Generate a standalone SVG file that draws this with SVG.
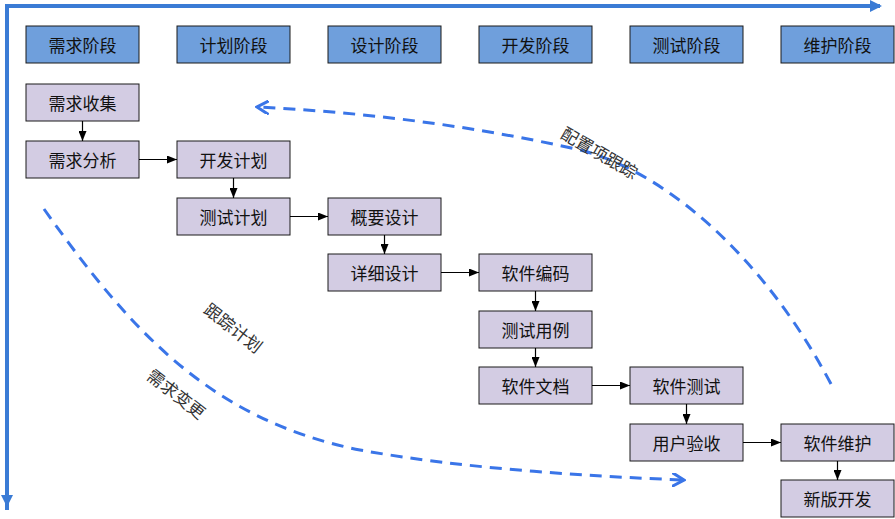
<svg xmlns="http://www.w3.org/2000/svg" width="895" height="519" viewBox="0 0 895 519">
<defs>
<style>
.h rect{fill:#6f9fdc;stroke:#1a1a1a;stroke-width:1}
.n rect{fill:#d3cce3;stroke:#1a1a1a;stroke-width:1}
text{font-family:"Noto Sans CJK SC","Liberation Sans",sans-serif;font-size:17px;fill:#111;text-anchor:middle;dominant-baseline:central}
.c line{stroke:#000;stroke-width:1.2;marker-end:url(#a)}
.d{fill:none;stroke:#3a75e8;stroke-width:3;stroke-dasharray:12 8}
.lb{fill:#333}
</style>
<marker id="a" markerWidth="10" markerHeight="8" refX="10" refY="4" orient="auto" markerUnits="userSpaceOnUse"><path d="M0,0 L10,4 L0,8z" fill="#000"/></marker>
<marker id="b" markerWidth="14" markerHeight="14" refX="12" refY="7" orient="auto" markerUnits="userSpaceOnUse"><path d="M0,0 L12,7 L0,14" fill="none" stroke="#3a75e8" stroke-width="3"/></marker>
<marker id="f" markerWidth="12" markerHeight="12" refX="10" refY="6" orient="auto" markerUnits="userSpaceOnUse"><path d="M0,0 L12,6 L0,12z" fill="#3a7bd5"/></marker>
</defs>
<rect width="895" height="519" fill="#fff"/>
<g id="frame" fill="none" stroke="#3a7bd5" stroke-width="4">
<path d="M7,510 V6 H880" marker-end="url(#f)"/>
<path d="M7,6 V505" marker-end="url(#f)"/>
</g>
<g id="h1" class="h"><rect x="26" y="26" width="113" height="37"/><text x="82.5" y="44.5">需求阶段</text></g>
<g id="h2" class="h"><rect x="177" y="26" width="113" height="37"/><text x="233.5" y="44.5">计划阶段</text></g>
<g id="h3" class="h"><rect x="328" y="26" width="113" height="37"/><text x="384.5" y="44.5">设计阶段</text></g>
<g id="h4" class="h"><rect x="479" y="26" width="113" height="37"/><text x="535.5" y="44.5">开发阶段</text></g>
<g id="h5" class="h"><rect x="630" y="26" width="113" height="37"/><text x="686.5" y="44.5">测试阶段</text></g>
<g id="h6" class="h"><rect x="781" y="26" width="113" height="37"/><text x="837.5" y="44.5">维护阶段</text></g>
<g id="n1" class="n"><rect x="26" y="84" width="113" height="37"/><text x="82.5" y="102.5">需求收集</text></g>
<g id="n2" class="n"><rect x="26" y="141" width="113" height="37"/><text x="82.5" y="159.5">需求分析</text></g>
<g id="n3" class="n"><rect x="177" y="141" width="113" height="37"/><text x="233.5" y="159.5">开发计划</text></g>
<g id="n4" class="n"><rect x="177" y="198" width="113" height="37"/><text x="233.5" y="216.5">测试计划</text></g>
<g id="n5" class="n"><rect x="328" y="198" width="113" height="37"/><text x="384.5" y="216.5">概要设计</text></g>
<g id="n6" class="n"><rect x="328" y="254" width="113" height="37"/><text x="384.5" y="272.5">详细设计</text></g>
<g id="n7" class="n"><rect x="479" y="254" width="113" height="37"/><text x="535.5" y="272.5">软件编码</text></g>
<g id="n8" class="n"><rect x="479" y="311" width="113" height="37"/><text x="535.5" y="329.5">测试用例</text></g>
<g id="n9" class="n"><rect x="479" y="367" width="113" height="37"/><text x="535.5" y="385.5">软件文档</text></g>
<g id="n10" class="n"><rect x="630" y="367" width="113" height="37"/><text x="686.5" y="385.5">软件测试</text></g>
<g id="n11" class="n"><rect x="630" y="424" width="113" height="37"/><text x="686.5" y="442.5">用户验收</text></g>
<g id="n12" class="n"><rect x="781" y="424" width="113" height="37"/><text x="837.5" y="442.5">软件维护</text></g>
<g id="n13" class="n"><rect x="781" y="480" width="113" height="37"/><text x="837.5" y="498.5">新版开发</text></g>
<g id="connectors" class="c">
<line x1="82.5" y1="121" x2="82.5" y2="141"/>
<line x1="139" y1="159.5" x2="177" y2="159.5"/>
<line x1="233.5" y1="178" x2="233.5" y2="198"/>
<line x1="290" y1="216.5" x2="328" y2="216.5"/>
<line x1="384.5" y1="235" x2="384.5" y2="254"/>
<line x1="441" y1="272.5" x2="479" y2="272.5"/>
<line x1="535.5" y1="291" x2="535.5" y2="311"/>
<line x1="535.5" y1="348" x2="535.5" y2="367"/>
<line x1="592" y1="385.5" x2="630" y2="385.5"/>
<line x1="686.5" y1="404" x2="686.5" y2="424"/>
<line x1="743" y1="442.5" x2="781" y2="442.5"/>
<line x1="837.5" y1="461" x2="837.5" y2="480"/>
<path class="d" d="M831,384 C760,250 660,170 580,150 C470,125 360,112 257,107" marker-end="url(#b)"/>
<path class="d" d="M44,209 C130,330 210,420 360,450 C460,468 580,476 684,480" marker-end="url(#b)"/>
</g>
<text class="lb" x="600" y="152" transform="rotate(30 600 152)">配置项跟踪</text>
<text class="lb" x="234" y="327" transform="rotate(38 234 327)">跟踪计划</text>
<text class="lb" x="177" y="393" transform="rotate(38 177 393)">需求变更</text>
</svg>
